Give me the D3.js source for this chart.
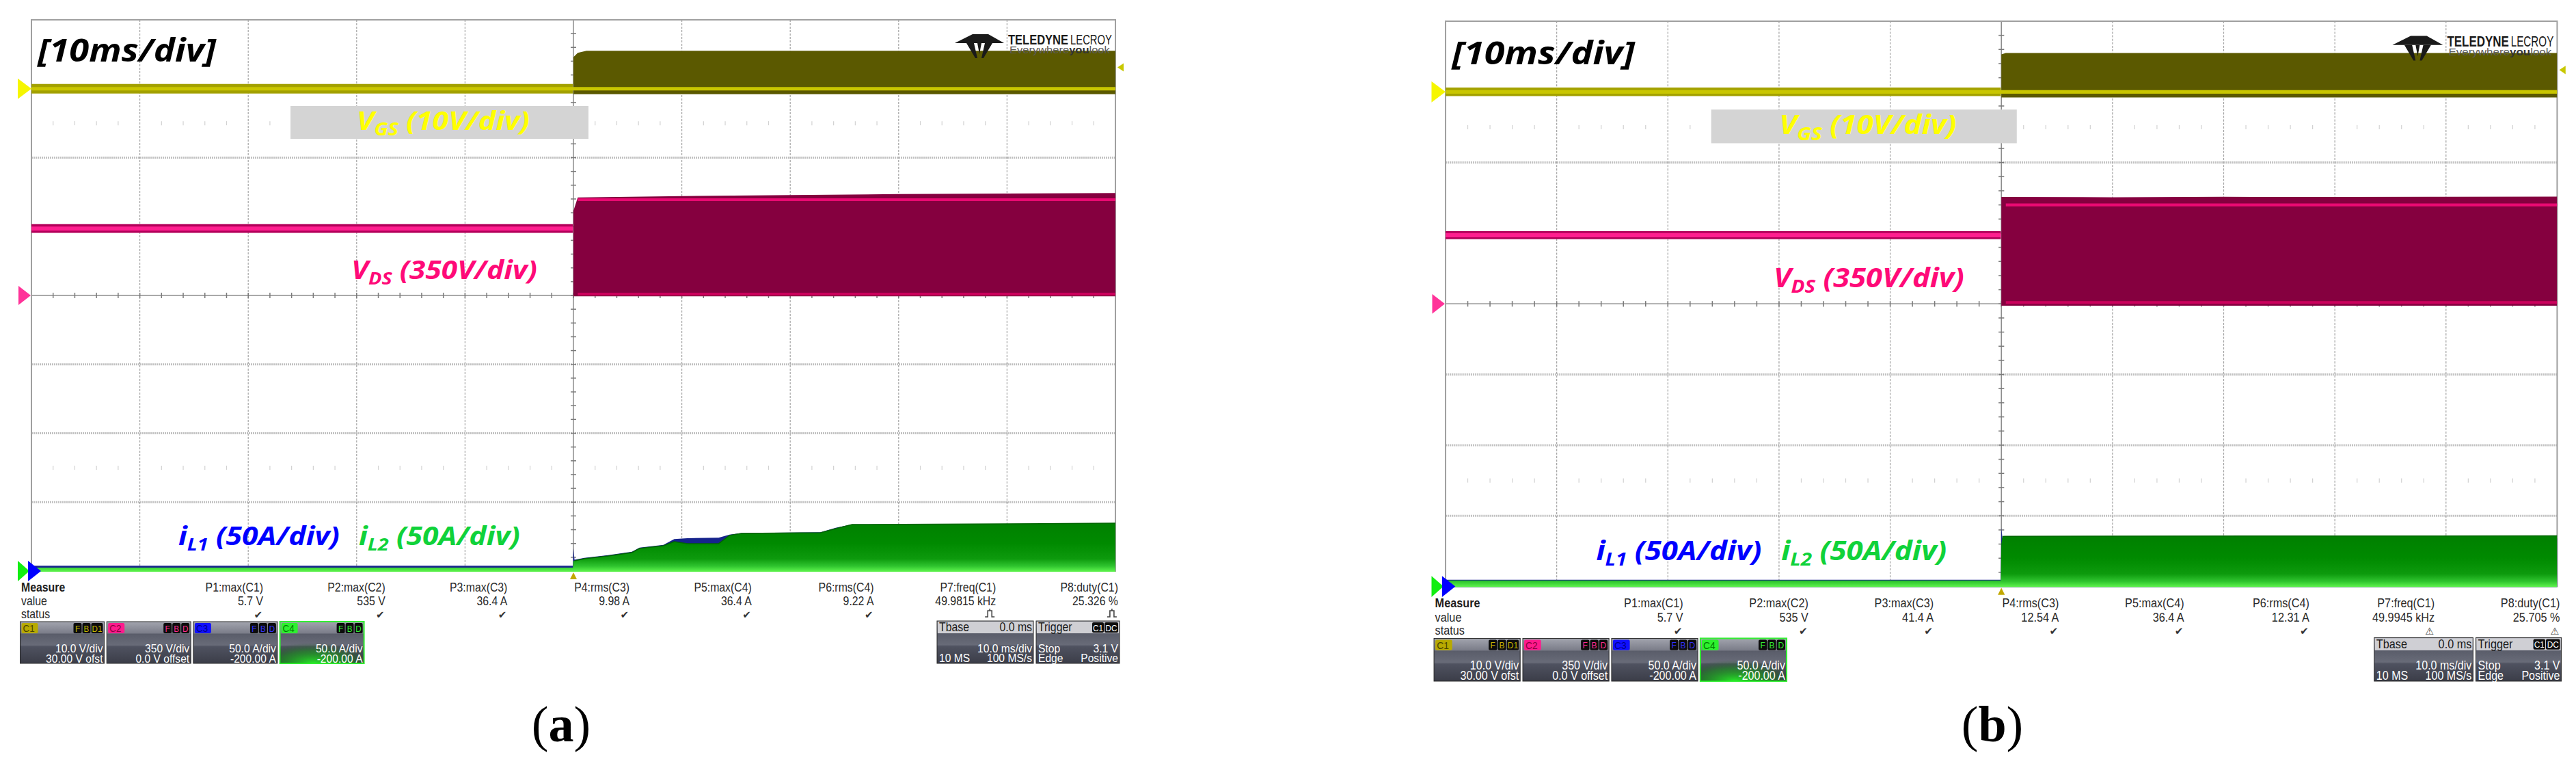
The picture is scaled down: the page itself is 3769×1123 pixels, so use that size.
<!DOCTYPE html>
<html>
<head>
<meta charset="utf-8">
<script src="https://cdn.jsdelivr.net/npm/d3@7"></script>
<style>
  body { margin: 0; background: #fff; }
  svg { display: block; }
</style>
</head>
<body>
<div id="chart"></div>
<script>

// time axis: 10 ms/div, trigger in the middle
const timeGs = [-50, -0.05, 0, 0.4, 1.2, 50];
const vgsHiA = [0.7, 0.7, 4.6, 5.2, 5.5, 5.5];
const vgsLoA = [-0.7, -0.7, -0.8, -0.8, -0.8, -0.8];
const vgsHiB = [0.6, 0.6, 5.3, 5.5, 5.5, 5.5];
const vgsLoB = [-0.6, -0.6, -0.8, -0.8, -0.8, -0.8];
const trigLevel = 3.1;

const timeDs = [-50, -0.05, 0, 0.4, 10, 20, 30, 40, 50];
const vdsHiA = [362, 362, 430, 498, 505, 510, 515, 518, 520];
const vdsLoA = [318, 318, -4, -4, -4, -4, -4, -4, -4];
const vdsHiB = [360, 360, 529, 529, 528, 530, 529, 530, 531];
const vdsLoB = [320, 320, -9, -9, -9, -9, -9, -9, -9];
const vdsLevelA = [340, 486, 7]; // off-state, on-state upper, on-state lower
const vdsLevelB = [340, 490, 7];

const timeIA = [-50, -0.05, 0, 0.1, 1.0, 3.2, 5.4, 6.1, 8.3, 9.3, 10.5, 13.4, 14.4, 15.5, 22.8, 24.2, 25.7, 50];
const iL2HiA = [2.5, 2.5, 7.4, 7.4, 8.9, 10.9, 13.4, 16.4, 18.4, 21.3, 19.9, 19.9, 25.8, 27.3, 27.8, 30.8, 33.7, 34.7];
const iL1HiA = [3.8, 3.8, 16.4, 8.2, 9.6, 11.6, 14.0, 17.0, 19.0, 23.2, 23.8, 24.2, 26.4, 27.6, 28.2, 31.4, 33.9, 33.5];

const timeIB = [-50, -0.05, 0, 0.1, 0.3, 25, 50];
const iL2HiB = [4.2, 4.2, 30, 35.4, 35.5, 35.7, 35.8];
const iL1HiB = [4.8, 4.8, 41.4, 34, 34, 34, 34];

const measNames = ["P1:max(C1)", "P2:max(C2)", "P3:max(C3)", "P4:rms(C3)", "P5:max(C4)", "P6:rms(C4)", "P7:freq(C1)", "P8:duty(C1)"];
const measA = ["5.7 V", "535 V", "36.4 A", "9.98 A", "36.4 A", "9.22 A", "49.9815 kHz", "25.326 %"];
const measB = ["5.7 V", "535 V", "41.4 A", "12.54 A", "36.4 A", "12.31 A", "49.9945 kHz", "25.705 %"];
const statusA = ["ok", "ok", "ok", "ok", "ok", "ok", "pulse", "pulse"];
const statusB = ["ok", "ok", "ok", "ok", "ok", "ok", "warn", "warn"];

const chNames = ["C1", "C2", "C3", "C4"];
const chScale = ["10.0 V/div", "350 V/div", "50.0 A/div", "50.0 A/div"];
const chOffset = ["30.00 V ofst", "0.0 V offset", "-200.00 A", "-200.00 A"];
const chFlags = [["F", "B", "D1"], ["F", "B", "D"], ["F", "B", "D"], ["F", "B", "D"]];

const tbaseRows = [["Tbase", "0.0 ms"], ["", "10.0 ms/div"], ["10 MS", "100 MS/s"]];
const trigRows = [["Trigger", ""], ["Stop", "3.1 V"], ["Edge", "Positive"]];

const captions = ["a", "b"];

// ---------- layout ----------
const width = 3769;
const height = 1123;
const W = 1586; // graticule width (panel a units)
const H = 806;  // graticule height

const svg = d3.select("#chart").append("svg")
    .attr("width", width)
    .attr("height", height);
svg.append("rect").attr("width", width).attr("height", height).attr("fill", "#fff");

const defs = svg.append("defs");
const gGreen = defs.append("linearGradient").attr("id", "gGreen")
    .attr("gradientUnits", "userSpaceOnUse").attr("x1", 0).attr("x2", 0).attr("y1", H - 90).attr("y2", H);
[[0, "#007a00"], [0.55, "#008a00"], [0.8, "#0d9a0d"], [0.92, "#2fc42f"], [1, "#5af04a"]]
    .forEach(([o, c]) => gGreen.append("stop").attr("offset", o).attr("stop-color", c));

const gBox = defs.append("linearGradient").attr("id", "gBox").attr("x1", 0).attr("x2", 0).attr("y1", 0).attr("y2", 1);
[[0, "#a2a4ae"], [0.27, "#7c7e8a"], [0.3, "#5a5d6a"], [0.56, "#686b78"], [0.6, "#4f5260"], [1, "#3b3d48"]]
    .forEach(([o, c]) => gBox.append("stop").attr("offset", o).attr("stop-color", c));

const gGlow = defs.append("radialGradient").attr("id", "gGlow")
    .attr("cx", 0.4).attr("cy", 1).attr("r", 0.7);
[[0, "#28f028", 0.95], [0.6, "#10a010", 0.5], [1, "#0a500a", 0]]
    .forEach(([o, c, a]) => gGlow.append("stop").attr("offset", o).attr("stop-color", c).attr("stop-opacity", a));

const x = d3.scaleLinear().domain([-50, 50]).range([0, W]);
const chan = (perDiv, ofs) => d3.scaleLinear()
    .domain([-4 * perDiv - ofs, 4 * perDiv - ofs])
    .range([H, 0]);
const yC1 = chan(10, 30);
const yC2 = chan(350, 0);
const yC3 = chan(50, -200);

// scope ui text (narrow sans)
function stext(g, str, px, py, o = {}) {
    return g.append("text")
        .attr("transform", `translate(${px},${py}) scale(${o.sx ?? 0.88},1)`)
        .attr("text-anchor", o.anchor ?? "start")
        .attr("font-family", "'Liberation Sans', Arial, sans-serif")
        .attr("font-size", o.size ?? 18)
        .attr("font-weight", o.weight ?? "normal")
        .attr("fill", o.fill ?? "#2a2a2a")
        .text(str);
}

// annotation text squeezed to a given width
function fitText(g, parts, px, py, w, size, color, o = {}) {
    const t = g.append("text")
        .attr("font-family", o.family ?? "'Noto Sans', 'DejaVu Sans', sans-serif")
        .attr("font-style", o.style ?? "italic")
        .attr("font-weight", o.weight ?? "bold")
        .attr("font-size", size)
        .attr("fill", color);
    let shifted = 0;
    parts.forEach(([s, kind]) => {
        const sp = t.append("tspan").text(s);
        if (kind === "sub") {
            sp.attr("font-size", size * 0.68).attr("dy", size * 0.22);
            shifted = size * 0.22;
        } else if (shifted) {
            sp.attr("dy", -shifted);
            shifted = 0;
        }
    });
    const bw = t.node().getComputedTextLength();
    t.attr("transform", `translate(${px},${py}) scale(${w / bw},1)`);
    return t;
}

const rows = (t, lo, hi) => t.map((tt, i) => ({ t: tt, lo: lo[i], hi: hi[i] }));

function drawPanel(p) {
    const g = svg.append("g").attr("transform", `translate(${p.tx},${p.ty}) scale(${p.s})`);
    const clipId = "clip" + p.id;
    g.append("clipPath").attr("id", clipId)
        .append("rect").attr("x", 0).attr("y", -2).attr("width", W).attr("height", H + 3);

    // graticule
    const grid = g.append("g");
    for (let k = 1; k < 8; k++) {
        if (k === 4) continue;
        grid.append("line").attr("x1", 0).attr("x2", W).attr("y1", k * H / 8).attr("y2", k * H / 8)
            .attr("stroke", "#c2c2c2").attr("stroke-width", 3).attr("stroke-dasharray", "2,1");
    }
    for (let k = 1; k < 10; k++) {
        if (k === 5) continue;
        grid.append("line").attr("y1", 0).attr("y2", H).attr("x1", k * W / 10).attr("x2", k * W / 10)
            .attr("stroke", "#a4a4a4").attr("stroke-width", 1.2).attr("stroke-dasharray", "3,2");
    }
    [1.5, 6.5].forEach(r => {
        for (let i = 1; i < 50; i++) {
            if (i % 5 === 0) continue;
            grid.append("line").attr("x1", i * W / 50).attr("x2", i * W / 50)
                .attr("y1", r * H / 8 - 3).attr("y2", r * H / 8 + 3)
                .attr("stroke", "#d2d2d2").attr("stroke-width", 1.2);
        }
    });
    grid.append("line").attr("x1", W / 2).attr("x2", W / 2).attr("y1", 0).attr("y2", H)
        .attr("stroke", "#8c8c8c").attr("stroke-width", 1.5);
    grid.append("line").attr("x1", 0).attr("x2", W).attr("y1", H / 2).attr("y2", H / 2)
        .attr("stroke", "#8c8c8c").attr("stroke-width", 1.5);
    for (let i = 1; i < 40; i++) {
        grid.append("line").attr("x1", W / 2 - 4).attr("x2", W / 2 + 4).attr("y1", i * H / 40).attr("y2", i * H / 40)
            .attr("stroke", "#7a7a7a").attr("stroke-width", 1.5);
    }
    for (let i = 1; i < 50; i++) {
        grid.append("line").attr("y1", H / 2 - 4).attr("y2", H / 2 + 4).attr("x1", i * W / 50).attr("x2", i * W / 50)
            .attr("stroke", "#7a7a7a").attr("stroke-width", 1.5);
    }
    grid.append("rect").attr("width", W).attr("height", H)
        .attr("fill", "none").attr("stroke", "#a0a0a0").attr("stroke-width", 2);

    // traces
    const tr = g.append("g").attr("clip-path", `url(#${clipId})`);

    // C1: VGS
    const gs = rows(timeGs, p.vgsLo, p.vgsHi);
    const aC1 = d3.area().x(d => x(d.t)).y0(d => yC1(d.lo)).y1(d => yC1(d.hi));
    tr.append("path").attr("d", aC1(gs.filter(d => d.t < 0))).attr("fill", "#a3a100");
    tr.append("path").attr("d", aC1(gs.filter(d => d.t >= 0))).attr("fill", "#5b5900");
    tr.append("line").attr("x1", x(-50)).attr("x2", x(50)).attr("y1", yC1(0)).attr("y2", yC1(0))
        .attr("stroke", "#c9c600").attr("stroke-width", 5);

    // C2: VDS
    const ds = rows(timeDs, p.vdsLo, p.vdsHi);
    const aC2 = d3.area().x(d => x(d.t)).y0(d => yC2(d.lo)).y1(d => yC2(d.hi));
    tr.append("path").attr("d", aC2(ds.filter(d => d.t < 0))).attr("fill", "#b3005a");
    tr.append("path").attr("d", aC2(ds.filter(d => d.t >= 0))).attr("fill", "#85003f");
    tr.append("line").attr("x1", x(-50)).attr("x2", x(-0.05)).attr("y1", yC2(p.vdsLv[0])).attr("y2", yC2(p.vdsLv[0]))
        .attr("stroke", "#ff1f8f").attr("stroke-width", 6);
    tr.append("line").attr("x1", x(0.4)).attr("x2", x(50)).attr("y1", yC2(p.vdsLv[1])).attr("y2", yC2(p.vdsLv[1]))
        .attr("stroke", "#ea0a72").attr("stroke-width", 4);
    tr.append("line").attr("x1", x(0.4)).attr("x2", x(50)).attr("y1", yC2(p.vdsLv[2])).attr("y2", yC2(p.vdsLv[2]))
        .attr("stroke", "#cc005c").attr("stroke-width", 4);

    // C3 / C4: inductor currents
    const aI = d3.area().x(d => x(d.t)).y0(yC3(-0.6)).y1(d => yC3(d.hi));
    const i1 = rows(p.tI, p.i1, p.i1);
    const i2 = rows(p.tI, p.i2, p.i2);
    tr.append("path").attr("d", aI(i1)).attr("fill", "#16238c");
    tr.append("path").attr("d", aI(i2)).attr("fill", "url(#gGreen)");
    tr.append("path").attr("d", d3.line().x(d => x(d.t)).y(d => yC3(d.hi))(i2.filter(d => d.t >= 0.1)))
        .attr("fill", "none").attr("stroke", "#006600").attr("stroke-width", 1.5);

    // channel / trigger markers
    g.append("polygon").attr("points", `-20,${yC1(0) - 15} 0,${yC1(0)} -20,${yC1(0) + 15}`).attr("fill", "#f6f600");
    g.append("polygon").attr("points", `-19,${yC2(0) - 14} -1,${yC2(0)} -19,${yC2(0) + 14}`).attr("fill", "#ff3399");
    g.append("polygon").attr("points", `-20,${yC3(0) - 15} -3,${yC3(0)} -20,${yC3(0) + 15}`).attr("fill", "#11ee11");
    g.append("polygon").attr("points", `-5,${yC3(0) - 15} 14,${yC3(0)} -5,${yC3(0) + 15}`).attr("fill", "#0000ff");
    const yt = yC1(trigLevel);
    g.append("polygon").attr("points", `${W + 12},${yt - 6} ${W + 3},${yt} ${W + 12},${yt + 6}`).attr("fill", "#c8c800");
    g.append("polygon").attr("points", `${x(0) - 5},${H + 12} ${x(0)},${H + 2} ${x(0) + 5},${H + 12}`).attr("fill", "#c2a800");

    // logo
    const logo = g.append("g");
    logo.append("path").attr("d", "M1377,21 L1400,21 L1423,34 L1351,34 Z").attr("fill", "#1a1a1a");
    logo.append("path").attr("d", "M1368,34 L1379,34 L1384,56 L1381,56 Z M1395,34 L1406,34 L1393,56 L1390,56 Z M1384,34 L1390,34 L1387,50 Z")
        .attr("fill", "#1a1a1a");
    fitText(logo, [["TELEDYNE"]], 1429, 36, 88, 21, "#1a1a1a", { family: "'Liberation Sans', Arial, sans-serif", style: "normal", weight: "bold" });
    fitText(logo, [["LECROY"]], 1520, 36, 61, 21, "#1a1a1a", { family: "'Liberation Sans', Arial, sans-serif", style: "normal", weight: "normal" });
    const tag = logo.append("text").attr("font-family", "'Liberation Sans', Arial, sans-serif").attr("font-size", 14).attr("fill", "#5a5a5a");
    tag.append("tspan").text("Everywhere");
    tag.append("tspan").attr("font-weight", "bold").attr("fill", "#333").text("you");
    tag.append("tspan").text("look");
    tag.attr("transform", `translate(1431,49) scale(${147 / tag.node().getComputedTextLength()},1)`);

    // annotations
    const ann = g.append("g");
    fitText(ann, [["[10ms/div]"]], 9, 61, 261, 46, "#000");
    ann.append("rect").attr("x", 379).attr("y", 126).attr("width", 436).attr("height", 48).attr("fill", "#d4d4d4");
    fitText(ann, [["V"], ["GS", "sub"], [" (10V/div)"]], 476, 161, 253, 38, "#ffff00");
    fitText(ann, [["V"], ["DS", "sub"], [" (350V/div)"]], 468, 379, 272, 38, "#ff0a78");
    fitText(ann, [["i"], ["L1", "sub"], [" (50A/div)"]], 215, 768, 236, 38, "#0000ff");
    fitText(ann, [["i"], ["L2", "sub"], [" (50A/div)"]], 479, 768, 236, 38, "#10d23a");

    // measurement table
    const m = g.append("g");
    stext(m, "Measure", -15, 836, { weight: "bold", fill: "#1e1e1e" });
    stext(m, "value", -15, 856);
    stext(m, "status", -15, 875);
    measNames.forEach((name, i) => {
        const cx = 339 + i * 178.7;
        stext(m, name, cx, 836, { anchor: "end" });
        stext(m, p.meas[i], cx, 856, { anchor: "end" });
        const st = p.status[i];
        if (st === "ok") {
            m.append("text").attr("x", cx - 1).attr("y", 875).attr("text-anchor", "end")
                .attr("font-family", "'DejaVu Sans', sans-serif").attr("font-size", 15).attr("fill", "#333").text("\u2714");
        } else if (st === "warn") {
            m.append("text").attr("x", cx - 1).attr("y", 875).attr("text-anchor", "end")
                .attr("font-family", "'DejaVu Sans', sans-serif").attr("font-size", 14).attr("fill", "#333").text("\u26A0");
        } else {
            m.append("path").attr("d", `M${cx - 16},873 h4 v-9 h6 v9 h4 M${cx - 9},861 v3`)
                .attr("fill", "none").attr("stroke", "#444").attr("stroke-width", 1.6);
        }
    });

    // channel descriptor boxes
    const chipFill = ["#b8aa00", "#ff1a8c", "#1010ff", "#2ef02e"];
    const chipText = ["#4a4400", "#8a0040", "#00008a", "#007a00"];
    const flagText = ["#c8b400", "#ff2a90", "#3030ff", "#33ee33"];
    chNames.forEach((c, i) => {
        const bx = -16.5 + i * 126.7;
        const by = 880;
        const b = g.append("g");
        b.append("rect").attr("x", bx).attr("y", by).attr("width", 123).attr("height", 61)
            .attr("fill", "url(#gBox)").attr("stroke", i === 3 ? "#33ee33" : "#2a2a2a").attr("stroke-width", i === 3 ? 2 : 1);
        if (i === 3) {
            b.append("rect").attr("x", bx).attr("y", by + 18).attr("width", 123).attr("height", 43).attr("fill", "url(#gGlow)");
        }
        b.append("rect").attr("x", bx + 2).attr("y", by + 2).attr("width", 24).attr("height", 15).attr("rx", 2).attr("fill", chipFill[i]);
        stext(b, c, bx + 4, by + 15, { size: 15, fill: chipText[i], sx: 0.9 });
        let fx = bx + 121;
        chFlags[i].slice().reverse().forEach(f => {
            const fw = f.length > 1 ? 17 : 12;
            fx -= fw;
            b.append("rect").attr("x", fx).attr("y", by + 2).attr("width", fw).attr("height", 15).attr("rx", 2).attr("fill", "#0c0c0c");
            stext(b, f, fx + fw / 2, by + 14.5, { size: 13, fill: flagText[i], anchor: "middle", sx: 0.9 });
            fx -= 1;
        });
        stext(b, chScale[i], bx + 121, by + 44.5, { anchor: "end", fill: "#fff", size: 17, sx: 0.92 });
        stext(b, chOffset[i], bx + 121, by + 59.5, { anchor: "end", fill: "#fff", size: 17, sx: 0.92 });
    });

    // timebase / trigger boxes
    [[1325, 141, tbaseRows], [1470, 122, trigRows]].forEach(([bx, bw, rr], j) => {
        const by = 879;
        const b = g.append("g");
        b.append("rect").attr("x", bx).attr("y", by).attr("width", bw).attr("height", 62)
            .attr("fill", "url(#gBox)").attr("stroke", "#2a2a2a");
        b.append("rect").attr("x", bx + 1).attr("y", by + 1).attr("width", bw - 2).attr("height", 17).attr("fill", "#cfcfd4");
        stext(b, rr[0][0], bx + 3, by + 15, { fill: "#1a1a1a" });
        if (j === 0) {
            stext(b, rr[0][1], bx + bw - 2, by + 15, { anchor: "end", fill: "#1a1a1a" });
        } else {
            [["DC", 20], ["C1", 17]].forEach(([s, fw], k) => {
                const fx = bx + bw - 2 - (k === 0 ? fw : fw + 21);
                b.append("rect").attr("x", fx).attr("y", by + 2).attr("width", fw).attr("height", 15).attr("rx", 2).attr("fill", "#0c0c0c");
                stext(b, s, fx + fw / 2, by + 14.5, { anchor: "middle", fill: "#fff", size: 13, sx: 0.9 });
            });
        }
        [1, 2].forEach(r => {
            const yy = by + (r === 1 ? 45.5 : 60);
            if (rr[r][0]) stext(b, rr[r][0], bx + 3, yy, { fill: "#fff", size: 17, sx: 0.92 });
            stext(b, rr[r][1], bx + bw - 2, yy, { anchor: "end", fill: "#fff", size: 17, sx: 0.92 });
        });
    });
}

const panels = [
    { id: "A", tx: 46, ty: 29, s: 1, vgsHi: vgsHiA, vgsLo: vgsLoA, vdsHi: vdsHiA, vdsLo: vdsLoA, vdsLv: vdsLevelA,
      tI: timeIA, i1: iL1HiA, i2: iL2HiA, meas: measA, status: statusA, capX: 821 },
    { id: "B", tx: 2115, ty: 31, s: 1.0255, vgsHi: vgsHiB, vgsLo: vgsLoB, vdsHi: vdsHiB, vdsLo: vdsLoB, vdsLv: vdsLevelB,
      tI: timeIB, i1: iL1HiB, i2: iL2HiB, meas: measB, status: statusB, capX: 2915 }
];

panels.forEach((p, i) => {
    drawPanel(p);
    const cap = svg.append("text")
        .attr("x", p.capX).attr("y", 1084)
        .attr("text-anchor", "middle")
        .attr("font-family", "'Liberation Serif', 'DejaVu Serif', serif")
        .attr("font-size", 74)
        .attr("fill", "#000");
    cap.append("tspan").text("(");
    cap.append("tspan").attr("font-weight", "bold").text(captions[i]);
    cap.append("tspan").text(")");
});
</script>
</body>
</html>
